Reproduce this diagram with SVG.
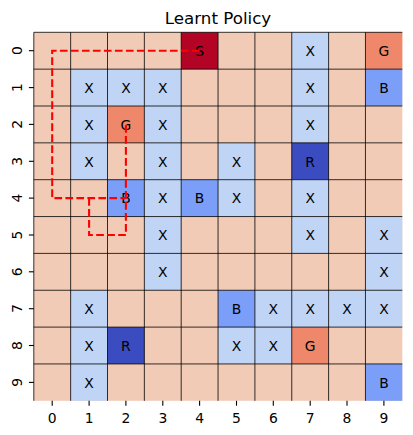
<svg xmlns="http://www.w3.org/2000/svg" width="413" height="435" viewBox="0 0 413 435">
<style>
text{font-family:"DejaVu Sans",sans-serif;fill:#000}
.t{font-size:13.9px;text-anchor:middle}
.ttl{font-size:16.7px;text-anchor:middle}
.c rect{width:36.85px;height:36.85px}
.X rect{fill:#c0d4f5}
.B rect{fill:#7b9ff9}
.R rect{fill:#3b4cc0}
.G rect{fill:#ef886b}
.S rect{fill:#b40426}
.c text{font-size:13.9px;text-anchor:middle}
.grid line{stroke:#000;stroke-width:0.8}
.tick line{stroke:#000;stroke-width:1.1}
</style>
<rect width="413" height="435" fill="#fff"/>
<text class="ttl" x="218" y="24">Learnt Policy</text>
<rect id="board" x="33.8" y="32.3" width="368.5" height="368.5" fill="#f2cbb7"/>
<g id="r0c4" class="c S"><rect x="181.2" y="32.3"/><text x="199.6" y="55.9">S</text></g>
<g id="r0c7" class="c X"><rect x="291.75" y="32.3"/><text x="310.2" y="55.9">X</text></g>
<g id="r0c9" class="c G"><rect x="365.45" y="32.3"/><text x="383.9" y="55.9">G</text></g>
<g id="r1c1" class="c X"><rect x="70.65" y="69.15"/><text x="89.1" y="92.8">X</text></g>
<g id="r1c2" class="c X"><rect x="107.5" y="69.15"/><text x="125.9" y="92.8">X</text></g>
<g id="r1c3" class="c X"><rect x="144.35" y="69.15"/><text x="162.8" y="92.8">X</text></g>
<g id="r1c7" class="c X"><rect x="291.75" y="69.15"/><text x="310.2" y="92.8">X</text></g>
<g id="r1c9" class="c B"><rect x="365.45" y="69.15"/><text x="383.9" y="92.8">B</text></g>
<g id="r2c1" class="c X"><rect x="70.65" y="106"/><text x="89.1" y="129.6">X</text></g>
<g id="r2c2" class="c G"><rect x="107.5" y="106"/><text x="125.9" y="129.6">G</text></g>
<g id="r2c3" class="c X"><rect x="144.35" y="106"/><text x="162.8" y="129.6">X</text></g>
<g id="r2c7" class="c X"><rect x="291.75" y="106"/><text x="310.2" y="129.6">X</text></g>
<g id="r3c1" class="c X"><rect x="70.65" y="142.85"/><text x="89.1" y="166.5">X</text></g>
<g id="r3c3" class="c X"><rect x="144.35" y="142.85"/><text x="162.8" y="166.5">X</text></g>
<g id="r3c5" class="c X"><rect x="218.05" y="142.85"/><text x="236.5" y="166.5">X</text></g>
<g id="r3c7" class="c R"><rect x="291.75" y="142.85"/><text x="310.2" y="166.5">R</text></g>
<g id="r4c2" class="c B"><rect x="107.5" y="179.7"/><text x="125.9" y="203.3">B</text></g>
<g id="r4c3" class="c X"><rect x="144.35" y="179.7"/><text x="162.8" y="203.3">X</text></g>
<g id="r4c4" class="c B"><rect x="181.2" y="179.7"/><text x="199.6" y="203.3">B</text></g>
<g id="r4c5" class="c X"><rect x="218.05" y="179.7"/><text x="236.5" y="203.3">X</text></g>
<g id="r4c7" class="c X"><rect x="291.75" y="179.7"/><text x="310.2" y="203.3">X</text></g>
<g id="r5c3" class="c X"><rect x="144.35" y="216.55"/><text x="162.8" y="240.2">X</text></g>
<g id="r5c7" class="c X"><rect x="291.75" y="216.55"/><text x="310.2" y="240.2">X</text></g>
<g id="r5c9" class="c X"><rect x="365.45" y="216.55"/><text x="383.9" y="240.2">X</text></g>
<g id="r6c3" class="c X"><rect x="144.35" y="253.4"/><text x="162.8" y="277">X</text></g>
<g id="r6c9" class="c X"><rect x="365.45" y="253.4"/><text x="383.9" y="277">X</text></g>
<g id="r7c1" class="c X"><rect x="70.65" y="290.25"/><text x="89.1" y="313.9">X</text></g>
<g id="r7c5" class="c B"><rect x="218.05" y="290.25"/><text x="236.5" y="313.9">B</text></g>
<g id="r7c6" class="c X"><rect x="254.9" y="290.25"/><text x="273.3" y="313.9">X</text></g>
<g id="r7c7" class="c X"><rect x="291.75" y="290.25"/><text x="310.2" y="313.9">X</text></g>
<g id="r7c8" class="c X"><rect x="328.6" y="290.25"/><text x="347" y="313.9">X</text></g>
<g id="r7c9" class="c X"><rect x="365.45" y="290.25"/><text x="383.9" y="313.9">X</text></g>
<g id="r8c1" class="c X"><rect x="70.65" y="327.1"/><text x="89.1" y="350.7">X</text></g>
<g id="r8c2" class="c R"><rect x="107.5" y="327.1"/><text x="125.9" y="350.7">R</text></g>
<g id="r8c5" class="c X"><rect x="218.05" y="327.1"/><text x="236.5" y="350.7">X</text></g>
<g id="r8c6" class="c X"><rect x="254.9" y="327.1"/><text x="273.3" y="350.7">X</text></g>
<g id="r8c7" class="c G"><rect x="291.75" y="327.1"/><text x="310.2" y="350.7">G</text></g>
<g id="r9c1" class="c X"><rect x="70.65" y="363.95"/><text x="89.1" y="387.6">X</text></g>
<g id="r9c9" class="c B"><rect x="365.45" y="363.95"/><text x="383.9" y="387.6">B</text></g>
<g id="grid" class="grid">
<line x1="33.8" y1="32.3" x2="33.8" y2="400.8"/><line x1="70.65" y1="32.3" x2="70.65" y2="400.8"/><line x1="107.5" y1="32.3" x2="107.5" y2="400.8"/><line x1="144.35" y1="32.3" x2="144.35" y2="400.8"/><line x1="181.2" y1="32.3" x2="181.2" y2="400.8"/><line x1="218.05" y1="32.3" x2="218.05" y2="400.8"/><line x1="254.9" y1="32.3" x2="254.9" y2="400.8"/><line x1="291.75" y1="32.3" x2="291.75" y2="400.8"/><line x1="328.6" y1="32.3" x2="328.6" y2="400.8"/><line x1="365.45" y1="32.3" x2="365.45" y2="400.8"/>
<line x1="33.8" y1="32.3" x2="402.3" y2="32.3"/><line x1="33.8" y1="69.15" x2="402.3" y2="69.15"/><line x1="33.8" y1="106" x2="402.3" y2="106"/><line x1="33.8" y1="142.85" x2="402.3" y2="142.85"/><line x1="33.8" y1="179.7" x2="402.3" y2="179.7"/><line x1="33.8" y1="216.55" x2="402.3" y2="216.55"/><line x1="33.8" y1="253.4" x2="402.3" y2="253.4"/><line x1="33.8" y1="290.25" x2="402.3" y2="290.25"/><line x1="33.8" y1="327.1" x2="402.3" y2="327.1"/><line x1="33.8" y1="363.95" x2="402.3" y2="363.95"/>
</g>
<g id="connectors">
<path d="M199.6 50.7H52.2V198.1H125.9M89.1 198.1V235H125.9V124.4" fill="none" stroke="#ff0000" stroke-width="2.1" stroke-dasharray="7.7 3.3"/>
</g>
<g id="ticks" class="tick">
<line x1="52.2" y1="400.8" x2="52.2" y2="405.7"/><line x1="89.1" y1="400.8" x2="89.1" y2="405.7"/><line x1="125.9" y1="400.8" x2="125.9" y2="405.7"/><line x1="162.8" y1="400.8" x2="162.8" y2="405.7"/><line x1="199.6" y1="400.8" x2="199.6" y2="405.7"/><line x1="236.5" y1="400.8" x2="236.5" y2="405.7"/><line x1="273.3" y1="400.8" x2="273.3" y2="405.7"/><line x1="310.2" y1="400.8" x2="310.2" y2="405.7"/><line x1="347" y1="400.8" x2="347" y2="405.7"/><line x1="383.9" y1="400.8" x2="383.9" y2="405.7"/>
<line x1="28.9" y1="50.7" x2="33.8" y2="50.7"/><line x1="28.9" y1="87.6" x2="33.8" y2="87.6"/><line x1="28.9" y1="124.4" x2="33.8" y2="124.4"/><line x1="28.9" y1="161.3" x2="33.8" y2="161.3"/><line x1="28.9" y1="198.1" x2="33.8" y2="198.1"/><line x1="28.9" y1="235" x2="33.8" y2="235"/><line x1="28.9" y1="271.8" x2="33.8" y2="271.8"/><line x1="28.9" y1="308.7" x2="33.8" y2="308.7"/><line x1="28.9" y1="345.5" x2="33.8" y2="345.5"/><line x1="28.9" y1="382.4" x2="33.8" y2="382.4"/>
</g>
<g id="xlabels">
<text class="t" x="52.2" y="422.6">0</text><text class="t" x="89.1" y="422.6">1</text><text class="t" x="125.9" y="422.6">2</text><text class="t" x="162.8" y="422.6">3</text><text class="t" x="199.6" y="422.6">4</text><text class="t" x="236.5" y="422.6">5</text><text class="t" x="273.3" y="422.6">6</text><text class="t" x="310.2" y="422.6">7</text><text class="t" x="347" y="422.6">8</text><text class="t" x="383.9" y="422.6">9</text>
</g>
<g id="ylabels">
<text class="t" transform="translate(21.5 50.7) rotate(-90)">0</text><text class="t" transform="translate(21.5 87.6) rotate(-90)">1</text><text class="t" transform="translate(21.5 124.4) rotate(-90)">2</text><text class="t" transform="translate(21.5 161.3) rotate(-90)">3</text><text class="t" transform="translate(21.5 198.1) rotate(-90)">4</text><text class="t" transform="translate(21.5 235) rotate(-90)">5</text><text class="t" transform="translate(21.5 271.8) rotate(-90)">6</text><text class="t" transform="translate(21.5 308.7) rotate(-90)">7</text><text class="t" transform="translate(21.5 345.5) rotate(-90)">8</text><text class="t" transform="translate(21.5 382.4) rotate(-90)">9</text>
</g>
</svg>
